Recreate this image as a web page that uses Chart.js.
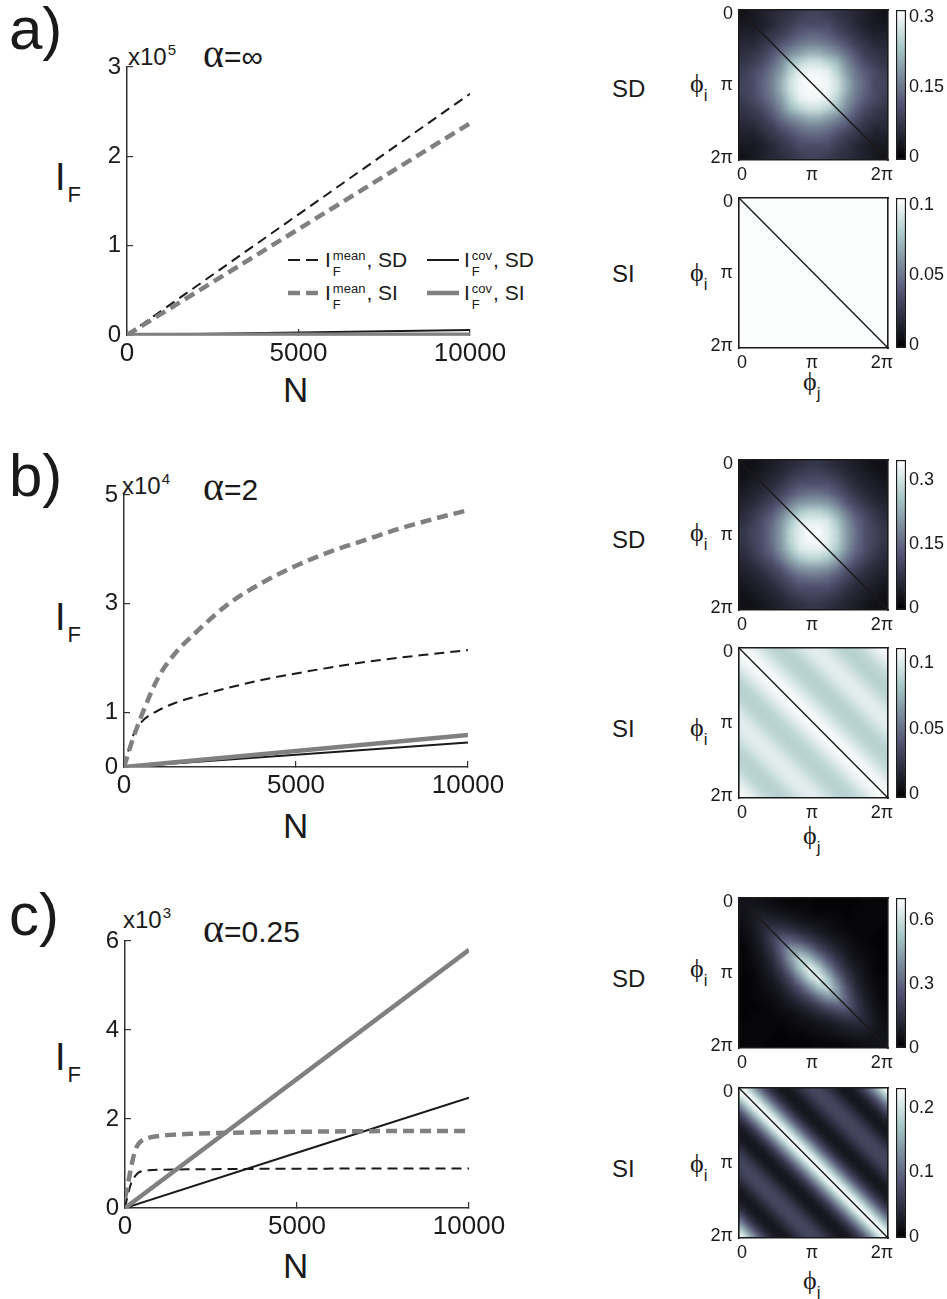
<!DOCTYPE html>
<html lang="en">
<head>
<meta charset="UTF-8">
<title>Fisher information vs N</title>
<script src="https://cdn.jsdelivr.net/npm/chart.js"></script>
<style>
  body { margin: 0; background: #fff; }
  #fig { position: relative; width: 947px; height: 1299px; overflow: hidden;
         font-family: 'Liberation Sans', Arial, sans-serif; color: #1a1a1a; }
  #fig canvas { position: absolute; }
  .t { position: absolute; white-space: nowrap; line-height: 1; }
  .sup { font-size: 15px; position: relative; top: -10px; margin-left: 1px; }
  .gr { font-family: 'Liberation Serif', 'DejaVu Serif', serif; font-size: 40px; }
  .sub { font-size: 22px; position: relative; top: 12px; margin-left: 2px; }
  .phi { font-family: 'Liberation Serif', 'DejaVu Serif', serif; font-size: 26px; }
  .phi span { font-family: 'Liberation Sans', Arial, sans-serif; font-size: 17px; position: relative; top: 9px; }
  .ss { display: inline-block; font-size: 13px; line-height: 16px; vertical-align: -9px; margin: 0 1px 0 2px; }
</style>
</head>
<body>
<div id="fig">
  <!-- panel labels -->
  <div class="t" style="left:9px;top:-1px;font-size:60px">a)</div>
  <div class="t" style="left:9px;top:446px;font-size:60px">b)</div>
  <div class="t" style="left:9px;top:885px;font-size:60px">c)</div>

  <div class="t" style="left:128px;top:45px;font-size:24px">x10<span class="sup">5</span></div>
  <div class="t" style="left:122px;top:474px;font-size:24px">x10<span class="sup">4</span></div>
  <div class="t" style="left:123px;top:908px;font-size:24px">x10<span class="sup">3</span></div>

  <div class="t" style="left:203px;top:34px;font-size:30px"><span class="gr">α</span>=∞</div>
  <div class="t" style="left:203px;top:467px;font-size:30px"><span class="gr">α</span>=2</div>
  <div class="t" style="left:203px;top:909px;font-size:30px"><span class="gr">α</span>=0.25</div>

  <div class="t" style="left:55px;top:158px;font-size:38px">I<span class="sub">F</span></div>
  <div class="t" style="left:55px;top:598px;font-size:38px">I<span class="sub">F</span></div>
  <div class="t" style="left:55px;top:1038px;font-size:38px">I<span class="sub">F</span></div>

  <div class="t" style="left:283px;top:372px;font-size:35px">N</div>
  <div class="t" style="left:283px;top:808px;font-size:35px">N</div>
  <div class="t" style="left:283px;top:1248px;font-size:35px">N</div>

  <!-- legend of panel a -->
  <div class="t" style="left:288px;top:248px;font-size:21px"><svg width="32" height="6" style="vertical-align:4px;margin-right:5px"><line x1="0" y1="3" x2="32" y2="3" stroke="#1a1a1a" stroke-width="2" stroke-dasharray="12 6"/></svg>I<span class="ss">mean<br>F</span>, SD</div>
  <div class="t" style="left:288px;top:281px;font-size:21px"><svg width="32" height="6" style="vertical-align:4px;margin-right:5px"><line x1="0" y1="3" x2="32" y2="3" stroke="#808080" stroke-width="4.5" stroke-dasharray="12 6"/></svg>I<span class="ss">mean<br>F</span>, SI</div>
  <div class="t" style="left:427px;top:248px;font-size:21px"><svg width="32" height="6" style="vertical-align:4px;margin-right:5px"><line x1="0" y1="3" x2="32" y2="3" stroke="#1a1a1a" stroke-width="2"/></svg>I<span class="ss">cov<br>F</span>, SD</div>
  <div class="t" style="left:427px;top:281px;font-size:21px"><svg width="32" height="6" style="vertical-align:4px;margin-right:5px"><line x1="0" y1="3" x2="32" y2="3" stroke="#808080" stroke-width="4.5"/></svg>I<span class="ss">cov<br>F</span>, SI</div>

  <!-- heatmap labels -->
  <div class="t" style="left:612px;top:77px;font-size:24px">SD</div>
  <div class="t" style="left:612px;top:262px;font-size:24px">SI</div>
  <div class="t" style="left:612px;top:528px;font-size:24px">SD</div>
  <div class="t" style="left:612px;top:717px;font-size:24px">SI</div>
  <div class="t" style="left:612px;top:967px;font-size:24px">SD</div>
  <div class="t" style="left:612px;top:1157px;font-size:24px">SI</div>

  <div class="t phi" style="left:690px;top:71px">ϕ<span>i</span></div>
  <div class="t phi" style="left:690px;top:260px">ϕ<span>i</span></div>
  <div class="t phi" style="left:690px;top:520px">ϕ<span>i</span></div>
  <div class="t phi" style="left:690px;top:715px">ϕ<span>i</span></div>
  <div class="t phi" style="left:690px;top:956px">ϕ<span>i</span></div>
  <div class="t phi" style="left:690px;top:1151px">ϕ<span>i</span></div>

  <div class="t phi" style="left:803px;top:369px">ϕ<span>j</span></div>
  <div class="t phi" style="left:803px;top:823px">ϕ<span>j</span></div>
  <div class="t phi" style="left:803px;top:1268px">ϕ<span>j</span></div>
</div>

<script>
// ---- line charts: N on x, I_F on y ----
const nTicks = [0, 5000, 10000];
const nLin = [0, 10000];

// a) alpha = inf  (values in absolute units, axis shown x10^5)
const yTicksA = [0, 100000, 200000, 300000];
const yLabelsA = ['0', '1', '2', '3'];
const sdMeanA = [0, 270000];
const siMeanA = [0, 237000];
const sdCovA = [0, 5500];
const siCovA = [0, 300];

// b) alpha = 2  (axis shown x10^4)
const nB = [0, 250, 500, 1000, 1500, 2000, 3000, 4000, 5000, 6000, 7000, 8000, 9000, 10000];
const siMeanB = [0, 5000, 9300, 16500, 21000, 24200, 29800, 33800, 37000, 39600, 41700, 43800, 45600, 47200];
const sdMeanB = [0, 5500, 8200, 10400, 11800, 12800, 14500, 16000, 17200, 18300, 19300, 20100, 20800, 21500];
const siCovB = [0, 5900];
const sdCovB = [0, 4500];
const yTicksB = [0, 10000, 30000, 50000];
const yLabelsB = ['0', '1', '3', '5'];

// c) alpha = 0.25  (axis shown x10^3)
const nC = [0, 100, 200, 300, 400, 500, 700, 1000, 2000, 4000, 6000, 8000, 10000];
const siMeanC = [220, 600, 1000, 1300, 1450, 1520, 1580, 1620, 1670, 1700, 1720, 1730, 1730];
const sdMeanC = [0, 350, 600, 720, 800, 830, 850, 860, 870, 880, 885, 890, 890];
const siCovC = [0, 5800];
const sdCovC = [0, 2480];
const yTicksC = [0, 2000, 4000, 6000];
const yLabelsC = ['0', '2', '4', '6'];

// ---- covariance maps ----
const phiTicksX = [0.02, 0.49, 0.96];
const phiTicksY = [0.03, 0.5, 0.99];
const phiLabels = ['0', 'π', '2π'];

// SD maps, 16x16, values x0.01
const sdMapA = [
  [2,3,4,5,6,7,8,9,9,8,7,6,5,4,3,2],
  [3,3,4,5,7,8,10,10,10,10,8,7,5,4,3,3],
  [4,4,5,7,8,10,12,13,13,12,10,8,7,5,4,4],
  [5,5,7,8,11,13,15,16,16,15,13,11,8,7,5,5],
  [6,7,8,11,14,17,19,21,21,19,17,14,11,8,7,6],
  [7,8,10,13,17,22,25,27,27,25,22,17,13,10,8,7],
  [8,10,12,15,19,25,29,30,30,29,25,19,15,12,10,8],
  [9,10,13,16,21,27,30,31,31,30,27,21,16,13,10,9],
  [9,10,13,16,21,27,30,31,31,30,27,21,16,13,10,9],
  [8,10,12,15,19,25,29,30,30,29,25,19,15,12,10,8],
  [7,8,10,13,17,22,25,27,27,25,22,17,13,10,8,7],
  [6,7,8,11,14,17,19,21,21,19,17,14,11,8,7,6],
  [5,5,7,8,11,13,15,16,16,15,13,11,8,7,5,5],
  [4,4,5,7,8,10,12,13,13,12,10,8,7,5,4,4],
  [3,3,4,5,7,8,10,10,10,10,8,7,5,4,3,3],
  [2,3,4,5,6,7,8,9,9,8,7,6,5,4,3,2]
];
const sdMapB = [
  [2,2,3,4,5,6,7,8,8,7,6,5,4,3,2,2],
  [2,3,4,5,6,8,9,10,10,9,8,6,5,4,3,2],
  [3,4,5,6,8,10,12,12,12,12,10,8,6,5,4,3],
  [4,5,6,8,10,13,15,16,16,15,13,10,8,6,5,4],
  [5,6,8,10,13,17,20,21,21,20,17,13,10,8,6,5],
  [6,8,10,13,17,22,26,28,28,26,22,17,13,10,8,6],
  [7,9,12,15,20,26,31,32,32,31,26,20,15,12,9,7],
  [8,10,12,16,21,28,32,34,34,32,28,21,16,12,10,8],
  [8,10,12,16,21,28,32,34,34,32,28,21,16,12,10,8],
  [7,9,12,15,20,26,31,32,32,31,26,20,15,12,9,7],
  [6,8,10,13,17,22,26,28,28,26,22,17,13,10,8,6],
  [5,6,8,10,13,17,20,21,21,20,17,13,10,8,6,5],
  [4,5,6,8,10,13,15,16,16,15,13,10,8,6,5,4],
  [3,4,5,6,8,10,12,12,12,12,10,8,6,5,4,3],
  [2,3,4,5,6,8,9,10,10,9,8,6,5,4,3,2],
  [2,2,3,4,5,6,7,8,8,7,6,5,4,3,2,2]
];
const sdMapC = [
  [6,6,5,4,3,2,2,2,1,1,1,1,1,2,2,2],
  [6,8,8,7,6,5,4,3,2,2,2,1,2,2,2,2],
  [5,8,12,12,11,9,7,6,5,4,3,2,2,2,2,2],
  [4,7,12,18,19,17,13,11,8,6,4,3,2,2,2,1],
  [3,6,11,19,29,29,25,19,14,10,7,5,3,2,1,1],
  [2,5,9,17,29,43,42,34,24,17,11,7,4,3,2,1],
  [2,4,7,13,25,42,58,52,39,26,17,10,6,4,2,1],
  [2,3,6,11,19,34,52,67,56,39,24,14,8,5,2,1],
  [1,2,5,8,14,24,39,56,67,52,34,19,11,6,3,2],
  [1,2,4,6,10,17,26,39,52,58,42,25,13,7,4,2],
  [1,2,3,4,7,11,17,24,34,42,43,29,17,9,5,2],
  [1,1,2,3,5,7,10,14,19,25,29,29,19,11,6,3],
  [1,2,2,2,3,4,6,8,11,13,17,19,18,12,7,4],
  [2,2,2,2,2,3,4,5,6,7,9,11,12,12,8,5],
  [2,2,2,2,1,2,2,3,4,5,6,7,8,8,6,6],
  [2,2,2,1,1,1,1,1,2,2,2,3,4,5,6,6]
];

// SI maps depend only on phi_j - phi_i: value per offset (32 steps round the circle)
const siProfA = [0.104,0.104,0.104,0.104,0.104,0.104,0.104,0.104,0.104,0.104,0.104,0.104,0.104,0.104,0.104,0.104,
                 0.104,0.104,0.104,0.104,0.104,0.104,0.104,0.104,0.104,0.104,0.104,0.104,0.104,0.104,0.104,0.104];
const siProfB = [0.110,0.109,0.107,0.104,0.100,0.096,0.093,0.090,0.089,0.088,0.089,0.091,0.094,0.097,0.100,0.102,
                 0.103,0.102,0.100,0.097,0.094,0.091,0.089,0.088,0.089,0.090,0.093,0.096,0.100,0.104,0.107,0.109];
const siProfC = [0.225,0.216,0.184,0.147,0.113,0.083,0.058,0.039,0.028,0.021,0.021,0.028,0.039,0.051,0.062,0.069,
                 0.071,0.069,0.062,0.051,0.039,0.028,0.021,0.021,0.028,0.039,0.058,0.083,0.113,0.147,0.184,0.216];

// colour bar ranges and ticks
const cbSdA = { range: [-0.006, 0.315], ticks: [0, 0.15, 0.3], labels: ['0', '0.15', '0.3'] };
const cbSiA = { range: [-0.002, 0.105], ticks: [0, 0.05, 0.1], labels: ['0', '0.05', '0.1'] };
const cbSdB = { range: [-0.005, 0.347], ticks: [0, 0.15, 0.3], labels: ['0', '0.15', '0.3'] };
const cbSiB = { range: [-0.003, 0.1115], ticks: [0, 0.05, 0.1], labels: ['0', '0.05', '0.1'] };
const cbSdC = { range: [-0.001, 0.703], ticks: [0, 0.3, 0.6], labels: ['0', '0.3', '0.6'] };
const cbSiC = { range: [-0.0015, 0.231], ticks: [0, 0.1, 0.2], labels: ['0', '0.1', '0.2'] };

Chart.defaults.font.family = "'Liberation Sans', Arial, sans-serif";
Chart.defaults.color = '#1a1a1a';

const BLACK = '#1a1a1a', GRAY = '#808080', AXIS = '#333';
const fig = document.getElementById('fig');
const quiet = { responsive: false, animation: false, events: [] };
const noPlugins = { legend: { display: false }, tooltip: { enabled: false } };

function makeCanvas(left, top, w, h, cssW, cssH) {
  const c = document.createElement('canvas');
  c.width = w; c.height = h;
  c.style.left = left + 'px'; c.style.top = top + 'px';
  c.style.width = (cssW || w) + 'px'; c.style.height = (cssH || h) + 'px';
  fig.appendChild(c);
  return c;
}

// MATLAB "bone" colormap
function bone(t) {
  const c = x => Math.max(0, Math.min(1, x));
  t = c(t);
  const r = (7 * t + c((t - 0.75) / 0.25)) / 8;
  const g = (7 * t + c((t - 0.375) / 0.375)) / 8;
  const b = (7 * t + c(t / 0.375)) / 8;
  return `rgb(${Math.round(r * 255)},${Math.round(g * 255)},${Math.round(b * 255)})`;
}

function pts(xs, ys) { return xs.map((x, i) => ({ x, y: ys[i] })); }

function lineChart(box, s) {
  // top padding must exceed the half label height + tick padding Chart.js reserves
  const W = 530, padTop = 28, axisH = 50;
  const cv = makeCanvas(0, box.top - padTop, W, box.bottom - box.top + padTop + axisH);
  const line = (data, color, width, dash) => ({
    data, borderColor: color, borderWidth: width, borderDash: dash,
    pointRadius: 0, fill: false, cubicInterpolationMode: 'monotone', borderCapStyle: 'butt'
  });
  const tickGrid = { drawOnChartArea: false, tickLength: -6, color: AXIS, lineWidth: 1.2 };
  new Chart(cv, {
    type: 'line',
    data: { datasets: [
      line(pts(nLin, s.siCov), GRAY, 4.5, []),
      line(pts(s.nMean, s.siMean), GRAY, 4.5, [11, 6]),
      line(pts(nLin, s.sdCov), BLACK, 2, []),
      line(pts(s.nMean, s.sdMean), BLACK, 2, [10, 6])
    ] },
    options: {
      ...quiet,
      layout: { padding: { top: padTop, left: 0, right: W - box.right, bottom: 0 } },
      plugins: noPlugins,
      scales: {
        x: {
          type: 'linear', min: 0, max: 10000,
          afterBuildTicks: ax => { ax.ticks = nTicks.map(v => ({ value: v })); },
          ticks: { font: { size: 26 }, padding: 9, maxRotation: 0, autoSkip: false, callback: v => String(v) },
          grid: tickGrid,
          border: { color: AXIS, width: 1.5 },
          afterFit: ax => { ax.height = axisH; }
        },
        y: {
          type: 'linear', min: 0, max: s.yTicks[s.yTicks.length - 1],
          afterBuildTicks: ax => { ax.ticks = s.yTicks.map(v => ({ value: v })); },
          ticks: { font: { size: 24 }, padding: 12, autoSkip: false, callback: (v, i) => s.yLabels[i] },
          grid: tickGrid,
          border: { color: AXIS, width: 1.5 },
          afterFit: ax => { ax.width = box.left; }
        }
      }
    }
  });
}

// heatmap: the cells are drawn one pixel each by a bar chart on a small canvas,
// which the page shows enlarged (smooth shading); a second chart on top draws axes and diagonal
function heatmap(top, grid, unit, cb) {
  const n = grid.length;
  const boxL = 739, boxW = 149, boxH = 150;
  const lo = cb.range[0], hi = cb.range[1];

  const cellCanvas = makeCanvas(boxL, top, n, n, boxW, boxH);
  new Chart(cellCanvas, {
    type: 'bar',
    data: {
      labels: grid[0].map((_, i) => i),
      datasets: grid.map((row, r) => ({
        data: row.map(() => [r, r + 1]),
        backgroundColor: row.map(v => bone((v * unit - lo) / (hi - lo))),
        borderWidth: 0, barPercentage: 1, categoryPercentage: 1, inflateAmount: 0, grouped: false
      }))
    },
    options: {
      ...quiet, devicePixelRatio: 1,
      layout: { padding: 0 },
      plugins: noPlugins,
      scales: {
        x: { type: 'category', display: false },
        y: { type: 'linear', display: false, min: 0, max: n, reverse: true }
      }
    }
  });

  const W = 210, padTop = 18, axisH = 28, yAxisW = 49;
  const cv = makeCanvas(boxL - yAxisW, top - padTop, W, padTop + boxH + axisH);
  const frame = { display: true, color: BLACK, width: 1.6 };
  const noGrid = { display: false, drawTicks: false };
  new Chart(cv, {
    type: 'line',
    data: { datasets: [{
      data: [{ x: 0, y: 0 }, { x: 1, y: 1 }],
      borderColor: BLACK, borderWidth: 1.4, pointRadius: 0
    }] },
    options: {
      ...quiet,
      layout: { padding: { top: padTop, left: 0, right: W - yAxisW - boxW, bottom: 0 } },
      plugins: noPlugins,
      scales: {
        x: {
          type: 'linear', position: 'bottom', min: 0, max: 1, offset: false,
          afterBuildTicks: ax => { ax.ticks = phiTicksX.map(v => ({ value: v })); },
          ticks: { font: { size: 18 }, padding: 4, maxRotation: 0, autoSkip: false, callback: (v, i) => phiLabels[i] },
          grid: noGrid, border: frame,
          afterFit: ax => { ax.height = axisH; }
        },
        y: {
          type: 'linear', position: 'left', min: 0, max: 1, reverse: true, offset: false,
          afterBuildTicks: ax => { ax.ticks = phiTicksY.map(v => ({ value: v })); },
          ticks: { font: { size: 18 }, padding: 6, autoSkip: false, callback: (v, i) => phiLabels[i] },
          grid: noGrid, border: frame,
          afterFit: ax => { ax.width = yAxisW; }
        },
        xtop: {
          type: 'linear', position: 'top', min: 0, max: 1, offset: false,
          ticks: { display: false }, grid: noGrid, border: frame,
          afterFit: ax => { ax.height = 0; }
        },
        yright: {
          type: 'linear', position: 'right', min: 0, max: 1, offset: false,
          ticks: { display: false }, grid: noGrid, border: frame,
          afterFit: ax => { ax.width = 0; }
        }
      }
    }
  });
}

function colorbar(top, cb) {
  const W = 57, pad = 15, axisW = 41;
  const cv = makeCanvas(890, top - pad, W, pad + 150 + pad);
  new Chart(cv, {
    type: 'bar',
    data: { labels: [''], datasets: [{
      data: [[cb.range[0], cb.range[1]]],
      backgroundColor: ctx => {
        const ch = ctx.chart, a = ch.chartArea;
        if (!a) return '#888';
        const g = ch.ctx.createLinearGradient(0, a.bottom, 0, a.top);
        [0, 0.375, 0.75, 1].forEach(t => g.addColorStop(t, bone(t)));
        return g;
      },
      borderColor: BLACK, borderWidth: 1.5, borderSkipped: false,
      barPercentage: 1, categoryPercentage: 1
    }] },
    options: {
      ...quiet,
      layout: { padding: { top: pad, bottom: pad, left: 6, right: 0 } },
      plugins: noPlugins,
      scales: {
        x: { display: false },
        y: {
          position: 'right', min: cb.range[0], max: cb.range[1],
          afterBuildTicks: ax => { ax.ticks = cb.ticks.map(v => ({ value: v })); },
          ticks: { font: { size: 18 }, padding: 3, autoSkip: false, callback: (v, i) => cb.labels[i] },
          grid: { display: false, drawTicks: false }, border: { display: false },
          afterFit: ax => { ax.width = axisW; }
        }
      }
    }
  });
}

function siGrid(prof) {
  const n = prof.length;
  return prof.map((_, i) => prof.map((_, j) => prof[(j - i + n) % n]));
}

lineChart({ left: 127, right: 470, top: 67, bottom: 335 },
  { nMean: nLin, siMean: siMeanA, sdMean: sdMeanA, siCov: siCovA, sdCov: sdCovA, yTicks: yTicksA, yLabels: yLabelsA });
lineChart({ left: 124, right: 468, top: 495, bottom: 767 },
  { nMean: nB, siMean: siMeanB, sdMean: sdMeanB, siCov: siCovB, sdCov: sdCovB, yTicks: yTicksB, yLabels: yLabelsB });
lineChart({ left: 125, right: 469, top: 941, bottom: 1208 },
  { nMean: nC, siMean: siMeanC, sdMean: sdMeanC, siCov: siCovC, sdCov: sdCovC, yTicks: yTicksC, yLabels: yLabelsC });

heatmap(10, sdMapA, 0.01, cbSdA);        colorbar(10, cbSdA);
heatmap(198, siGrid(siProfA), 1, cbSiA); colorbar(198, cbSiA);
heatmap(460, sdMapB, 0.01, cbSdB);       colorbar(460, cbSdB);
heatmap(648, siGrid(siProfB), 1, cbSiB); colorbar(648, cbSiB);
heatmap(898, sdMapC, 0.01, cbSdC);       colorbar(898, cbSdC);
heatmap(1088, siGrid(siProfC), 1, cbSiC); colorbar(1088, cbSiC);
</script>
</body>
</html>
